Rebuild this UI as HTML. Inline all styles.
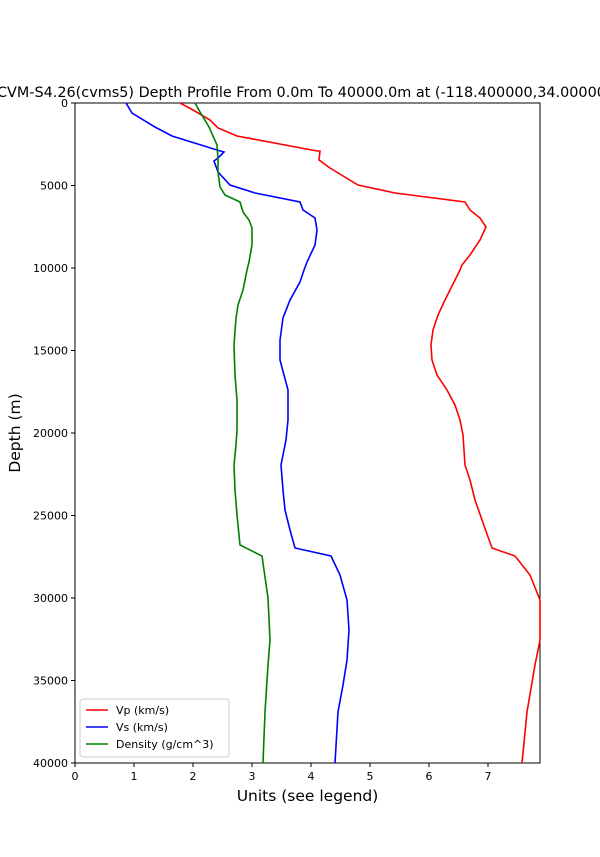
<!DOCTYPE html>
<html><head><meta charset="utf-8"><style>body{margin:0;background:#fff}svg{display:block}</style></head><body>
<svg width="600" height="857" xmlns="http://www.w3.org/2000/svg" font-family="DejaVu Sans, Liberation Sans, sans-serif">
<rect width="600" height="857" fill="#fff"/>
<text x="-3" y="97" font-size="14.4">CVM-S4.26(cvms5) Depth Profile From 0.0m To 40000.0m at (-118.400000,34.000000)</text>
<rect x="75" y="103" width="465" height="660" fill="none" stroke="#000" stroke-width="1"/>
<g stroke="#000" stroke-width="1">
<line x1="75" y1="763" x2="75" y2="767"/><line x1="134" y1="763" x2="134" y2="767"/><line x1="193" y1="763" x2="193" y2="767"/><line x1="252" y1="763" x2="252" y2="767"/><line x1="311" y1="763" x2="311" y2="767"/><line x1="370" y1="763" x2="370" y2="767"/><line x1="429" y1="763" x2="429" y2="767"/><line x1="488" y1="763" x2="488" y2="767"/>
<line x1="71" y1="103" x2="75" y2="103"/><line x1="71" y1="185.5" x2="75" y2="185.5"/><line x1="71" y1="268" x2="75" y2="268"/><line x1="71" y1="350.5" x2="75" y2="350.5"/><line x1="71" y1="433" x2="75" y2="433"/><line x1="71" y1="515.5" x2="75" y2="515.5"/><line x1="71" y1="598" x2="75" y2="598"/><line x1="71" y1="680.5" x2="75" y2="680.5"/><line x1="71" y1="763" x2="75" y2="763"/>
</g>
<g font-size="11" text-anchor="middle">
<text x="75" y="780">0</text><text x="134" y="780">1</text><text x="193" y="780">2</text><text x="252" y="780">3</text><text x="311" y="780">4</text><text x="370" y="780">5</text><text x="429" y="780">6</text><text x="488" y="780">7</text>
</g>
<g font-size="11" text-anchor="end">
<text x="68" y="107">0</text><text x="68" y="189.5">5000</text><text x="68" y="272">10000</text><text x="68" y="354.5">15000</text><text x="68" y="437">20000</text><text x="68" y="519.5">25000</text><text x="68" y="602">30000</text><text x="68" y="684.5">35000</text><text x="68" y="767">40000</text>
</g>
<text x="307.5" y="801" font-size="15.5" text-anchor="middle">Units (see legend)</text>
<text transform="translate(20,433) rotate(-90)" font-size="15.5" text-anchor="middle">Depth (m)</text>
<g fill="none" stroke-width="1.6">
<polyline stroke="#ff0000" points="180,103 193,110 210,120 218,128 237,136 317,151 320,151 319,160 330,168 358,185 395,193 465,202 470,210 480,218 486,227 480,240 470,255 462,265 460,270 445,300 438,315 433,330 431,345 432,360 437,375 447,390 455,405 460,420 463,435 465,465 470,480 475,500 482,520 492,548 515,556 530,575 540,600 540,640 535,665 527,712 522,763"/>
<polyline stroke="#0000ff" points="126,103 132,113 155,127 172,136 217,150 224,152 218,158 214,161 218,172 230,185 255,193 300,202 303,210 315,218 317,230 315,245 307,262 304,270 300,282 290,300 283,318 280,340 280,360 284,375 288,390 288,420 286,440 281,465 283,490 285,510 290,530 295,548 331,556 340,575 347,600 349,630 347,660 343,685 338,712 335,763"/>
<polyline stroke="#008000" points="195,103 200,112 209,127 217,145 218,160 218,172 220,187 225,195 240,202 243,212 249,220 252,228 252,245 249,262 247,270 243,290 238,305 236,318 234,345 235,375 237,400 237,430 236,445 234,465 235,490 237,515 240,545 262,556 268,598 270,640 268,665 265,712 263,763"/>
</g>
<rect x="80" y="699" width="149" height="58" fill="#fff" stroke="#ccc" rx="3"/>
<g stroke-width="1.6"><line x1="86" y1="710" x2="108" y2="710" stroke="#ff0000"/><line x1="86" y1="727" x2="108" y2="727" stroke="#0000ff"/><line x1="86" y1="744" x2="108" y2="744" stroke="#008000"/></g>
<g font-size="11"><text x="116" y="714">Vp (km/s)</text><text x="116" y="731">Vs (km/s)</text><text x="116" y="748">Density (g/cm^3)</text></g>
</svg>
</body></html>
